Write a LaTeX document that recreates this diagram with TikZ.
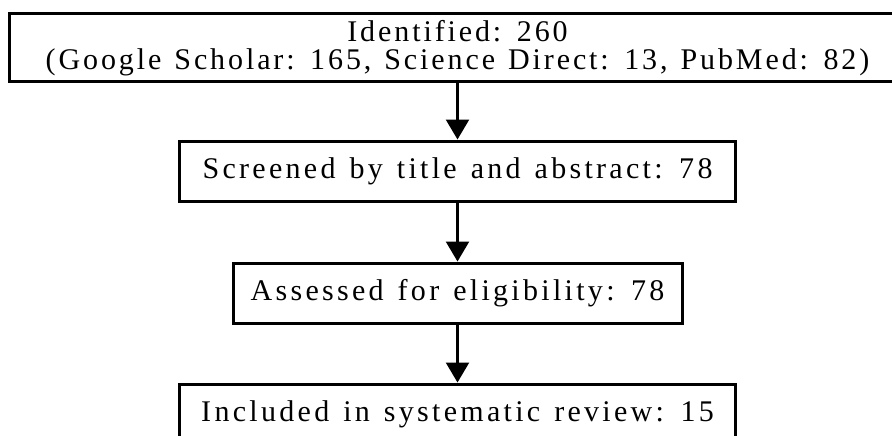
\documentclass[tikz,border=0pt]{standalone}
\usepackage{fontspec}
\setmainfont{Liberation Serif}
\usetikzlibrary{arrows.meta}
% spread the letters a little, as in the printed chart
\newdimen\lspace \lspace=3.3pt
\newcommand\lsp[2]{\XeTeXinterchartoks #1 #2 = {\kern\lspace}}
\lsp00 \lsp02 \lsp03 \lsp20 \lsp22 \lsp23 \lsp30 \lsp32 \lsp33
\newcommand\boxfont{\fontsize{30}{28}\selectfont\XeTeXinterchartokenstate=1 \spaceskip=14pt\relax}
\newcommand\identfont{\boxfont\lspace=2.9pt\relax\spaceskip=13pt\relax}

\begin{document}
\begin{tikzpicture}[x=1pt,y=-1pt,
  box/.style={draw, line width=3pt, minimum height=60pt, inner sep=0pt,
    font=\boxfont, align=center},
  arr/.style={line width=2.5pt, -{Triangle[width=23pt,length=20pt]}}]
\useasboundingbox (0,0) rectangle (892,436);
\clip (0,0) rectangle (892,436);
\node[box, minimum width=897pt, minimum height=68pt, font=\identfont] (ident) at (457.5,48)
  {Identified: 260\\(Google Scholar: 165, Science Direct: 13, PubMed: 82)};
\node[box, minimum width=556pt] (screen) at (457.5,171) {Screened by title and abstract: 78};
\node[box, minimum width=449pt] (assess) at (457.5,293) {Assessed for eligibility: 78};
\node[box, minimum width=556pt] (incl)   at (457.5,414) {Included in systematic review: 15};
\draw[arr] (ident)  -- (screen);
\draw[arr] (screen) -- (assess);
\draw[arr] (assess) -- (incl);
\end{tikzpicture}
\end{document}
